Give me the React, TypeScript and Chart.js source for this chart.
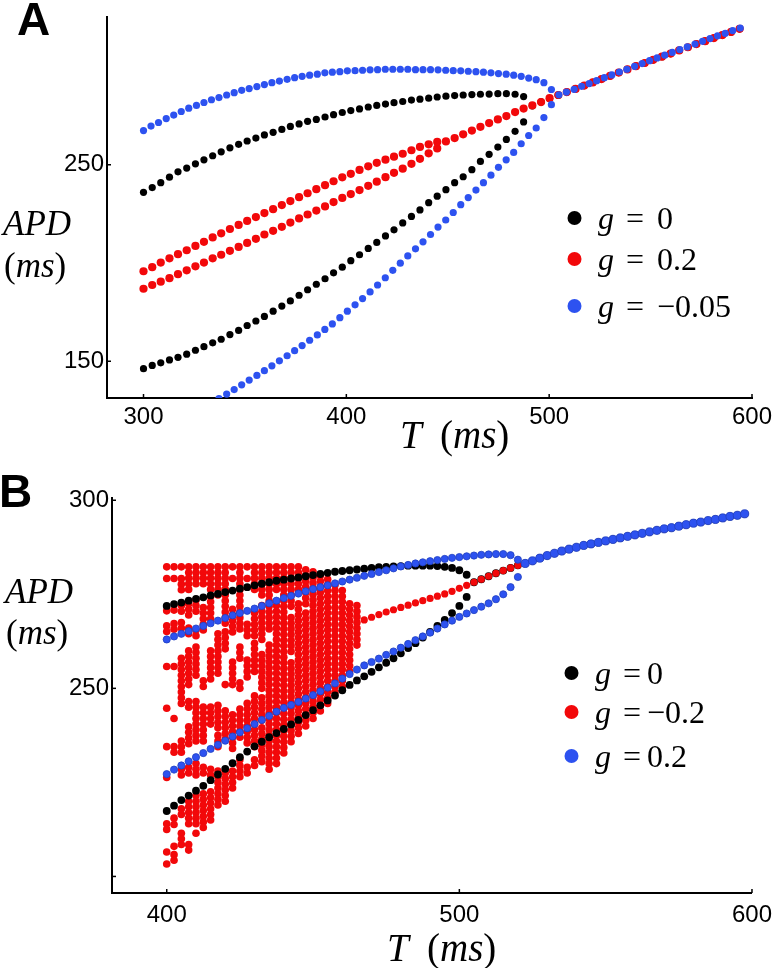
import React, { useEffect, useRef } from 'react';
import { Chart, registerables } from 'chart.js';

Chart.register(...registerables);

// ---------------- Panel A data ----------------
const A_X_TICKS = [300, 400, 500, 600];
const A_Y_TICKS = [150, 250];

// T grid (ms) of the g = 0 and g = 0.2 runs
const A_T_BR = [
  300.0, 304.3, 308.5, 312.8, 317.0, 321.3, 325.6, 329.8, 334.1, 338.3,
  342.6, 346.9, 351.1, 355.4, 359.6, 363.9, 368.2, 372.4, 376.7, 380.9,
  385.2, 389.5, 393.7, 398.0, 402.2, 406.5, 410.8, 415.0, 419.3, 423.5,
  427.8, 432.1, 436.3, 440.6, 444.8, 449.1, 453.4, 457.6, 461.9, 466.1,
  470.4, 474.7, 478.9, 483.2, 487.4, 491.7, 496.0, 500.2, 504.5, 508.7,
  513.0, 517.3, 521.5, 525.8, 530.0, 534.3, 538.6, 542.8, 547.1, 551.3,
  555.6, 559.9, 564.1, 568.4, 572.6, 576.9, 581.2, 585.4, 589.7, 593.9,
];
// T grid (ms) of the g = -0.05 run
const A_T_BLUE = [
  300.0, 303.7, 307.4, 311.2, 314.9, 318.6, 322.3, 326.1, 329.8, 333.5,
  337.2, 341.0, 344.7, 348.4, 352.1, 355.9, 359.6, 363.3, 367.0, 370.8,
  374.5, 378.2, 381.9, 385.7, 389.4, 393.1, 396.8, 400.5, 404.3, 408.0,
  411.7, 415.4, 419.2, 422.9, 426.6, 430.3, 434.1, 437.8, 441.5, 445.2,
  449.0, 452.7, 456.4, 460.1, 463.9, 467.6, 471.3, 475.0, 478.8, 482.5,
  486.2, 489.9, 493.6, 497.4, 501.1, 504.8, 508.5, 512.3, 516.0, 519.7,
  523.4, 527.2, 530.9, 534.6, 538.3, 542.1, 545.8, 549.5, 553.2, 557.0,
  560.7, 564.4, 568.1, 571.9, 575.6, 579.3, 583.0, 586.8, 590.5, 594.2,
];

// g = 0 (black)
const A_BLACK_UPPER = [
  236.0, 238.4, 240.9, 243.7, 246.4, 248.3, 250.5, 252.5, 254.6, 256.6,
  258.6, 260.4, 262.1, 263.6, 265.2, 266.5, 268.0, 269.5, 270.8, 272.1,
  273.1, 274.3, 275.5, 276.6, 277.6, 278.4, 279.4, 280.2, 280.9, 281.6,
  282.2, 282.9, 283.4, 283.9, 284.5, 284.9, 285.2, 285.5, 285.7, 285.9,
  286.0, 286.2, 286.2, 285.9, 284.7,
];
const A_BLACK_LOWER = [
  146.2, 147.9, 149.2, 150.7, 152.0, 153.6, 155.6, 157.4, 159.4, 161.2,
  163.6, 165.7, 168.2, 170.5, 172.8, 175.5, 178.1, 180.7, 183.6, 186.4,
  189.2, 192.0, 195.0, 197.9, 201.2, 204.2, 207.4, 210.5, 213.8, 216.9,
  220.4, 223.7, 227.0, 230.7, 234.0, 237.3, 240.9, 243.9, 247.5, 251.7,
  255.3, 259.0, 262.9, 267.0, 271.8,
];
const A_BLACK_SINGLE = [
  280.0, 282.0, 283.7, 285.4, 287.0, 288.6, 290.3, 291.9, 293.6, 295.2,
  296.9, 298.5, 300.2, 301.8, 303.4, 305.0, 306.6, 308.2, 309.8, 311.4,
  312.9, 314.5, 316.0, 317.6, 319.2,
];

// g = 0.2 (red)
const A_RED_UPPER = [
  195.8, 197.9, 200.2, 202.4, 204.5, 206.5, 208.7, 210.8, 213.0, 215.1,
  217.3, 219.4, 221.4, 223.4, 225.4, 227.4, 229.5, 231.5, 233.5, 235.5,
  237.6, 239.6, 241.6, 243.6, 245.4, 247.4, 249.2, 251.0, 252.6, 254.1,
  255.6, 257.4, 259.1, 260.4, 261.6,
];
const A_RED_LOWER = [
  186.9, 188.8, 190.5, 192.3, 194.3, 196.3, 198.3, 200.2, 202.4, 204.2,
  206.2, 208.2, 210.2, 212.3, 214.5, 216.4, 218.4, 220.6, 222.7, 224.7,
  226.7, 228.8, 231.0, 233.1, 235.1, 237.1, 239.3, 241.4, 243.7, 245.9,
  248.0, 250.5, 253.0, 255.8, 258.3,
];
const A_RED_SINGLE = [
  261.9, 263.6, 265.5, 267.4, 269.3, 271.2, 273.1, 274.8, 276.8, 278.6,
  280.2, 281.9, 283.9, 285.5, 287.0, 288.6, 290.3, 291.9, 293.6, 295.2,
  296.9, 298.5, 300.2, 301.8, 303.4, 305.0, 306.6, 308.2, 309.8, 311.4,
  312.9, 314.5, 316.0, 317.6, 319.2,
];

// g = -0.05 (blue)
const A_BLUE_UPPER = [
  267.4, 269.7, 271.5, 273.5, 275.3, 277.1, 278.8, 280.2, 281.7, 283.1,
  284.2, 285.5, 286.7, 287.9, 288.8, 289.8, 290.8, 291.8, 292.6, 293.5,
  294.3, 295.0, 295.6, 296.1, 296.8, 297.1, 297.4, 297.8, 297.9, 298.1,
  298.3, 298.4, 298.6, 298.6, 298.6, 298.6, 298.4, 298.4, 298.4, 298.3,
  298.1, 297.9, 297.8, 297.6, 297.4, 297.1, 296.8, 296.4, 296.1, 295.6,
  295.0, 294.1, 293.3, 291.8, 288.3,
];
const A_BLUE_LOWER: (number | null)[] = [
  null, null, null, null, null, null, null, null, null, null,
  131.0, 133.3, 135.6, 138.0, 140.4, 142.8, 145.2, 147.7, 150.2, 152.8,
  155.4, 158.0, 160.7, 163.4, 166.2, 169.0, 172.2, 175.5, 178.7, 181.9,
  185.3, 188.8, 192.5, 196.3, 199.9, 203.6, 207.2, 210.8, 214.5, 218.3,
  221.9, 225.7, 229.7, 233.3, 237.1, 240.9, 244.7, 248.7, 252.5, 256.3,
  260.7, 264.9, 268.7, 274.0, 280.6,
];
const A_BLUE_SINGLE = [
  285.6, 287.0, 288.4, 289.9, 291.3, 292.8, 294.3, 295.7, 297.2, 298.6,
  300.1, 301.5, 303.0, 304.4, 305.8, 307.2, 308.6, 310.0, 311.4, 312.8,
  314.2, 315.6, 316.9, 318.3, 319.6,
];

// ---------------- Panel B data ----------------
const B_X_TICKS = [400, 500, 600];
const B_Y_TICKS = [200, 250, 300];
const B_Y_LABELLED = [250, 300];

const B_T = [
  400, 402.5, 405, 407.5, 410, 412.5, 415, 417.5, 420, 422.5,
  425, 427.5, 430, 432.5, 435, 437.5, 440, 442.5, 445, 447.5,
  450, 452.5, 455, 457.5, 460, 462.5, 465, 467.5, 470, 472.5,
  475, 477.5, 480, 482.5, 485, 487.5, 490, 492.5, 495, 497.5,
  500, 502.5, 505, 507.5, 510, 512.5, 515, 517.5, 520, 522.5,
  525, 527.5, 530, 532.5, 535, 537.5, 540, 542.5, 545, 547.5,
  550, 552.5, 555, 557.5, 560, 562.5, 565, 567.5, 570, 572.5,
  575, 577.5, 580, 582.5, 585, 587.5, 590, 592.5, 595, 597.5,
];

// shared single (period-1) branch above T = 520
const B_COMMON = [
  283.2, 283.9, 284.6, 285.3, 285.9, 286.5, 287.0, 287.5, 288.0, 288.4,
  288.8, 289.2, 289.6, 290.0, 290.4, 290.8, 291.2, 291.6, 292.0, 292.4,
  292.7, 293.1, 293.5, 293.9, 294.2, 294.6, 294.9, 295.3, 295.7, 296.0,
  296.4,
];

// g = 0 (black)
const B_BLACK_UPPER = [
  271.9, 272.4, 272.8, 273.3, 273.8, 274.2, 274.7, 275.1, 275.6, 276.0,
  276.5, 276.9, 277.4, 277.8, 278.2, 278.6, 278.9, 279.2, 279.5, 279.8,
  280.1, 280.4, 280.7, 281.0, 281.2, 281.4, 281.6, 281.8, 282.0, 282.2,
  282.3, 282.4, 282.5, 282.6, 282.6, 282.6, 282.6, 282.5, 282.3, 282.0,
  281.4, 280.2,
];
const B_BLACK_LOWER = [
  217.4, 218.8, 220.3, 221.5, 222.8, 224.1, 225.6, 227.1, 228.6, 230.1,
  231.7, 233.2, 234.6, 235.8, 237.0, 238.1, 239.2, 240.4, 241.6, 242.9,
  244.2, 245.5, 246.8, 248.1, 249.5, 250.9, 252.1, 253.2, 254.4, 255.6,
  256.8, 258.0, 259.3, 260.7, 262.0, 263.5, 265.0, 266.6, 268.2, 270.0,
  271.9, 274.3,
];
const B_BLACK_SINGLE = [278.2, 279.0, 279.8, 280.6, 281.3, 282.0, 282.7];

// g = 0.2 (blue)
const B_BLUE_UPPER = [
  263.0, 263.8, 264.5, 265.2, 265.9, 266.6, 267.3, 268.0, 268.7, 269.4,
  270.0, 270.6, 271.2, 271.9, 272.6, 273.3, 274.0, 274.6, 275.2, 275.8,
  276.4, 276.9, 277.4, 277.9, 278.4, 278.9, 279.4, 279.9, 280.4, 280.9,
  281.4, 281.9, 282.4, 282.8, 283.2, 283.5, 283.8, 284.1, 284.4, 284.7,
  284.9, 285.1, 285.3, 285.5, 285.6, 285.7, 285.7, 285.4, 284.2,
];
const B_BLUE_LOWER = [
  227.2, 228.4, 229.5, 230.6, 231.7, 232.8, 233.9, 235.0, 236.1, 237.2,
  238.3, 239.4, 240.5, 241.6, 242.7, 243.8, 244.8, 245.6, 246.4, 247.3,
  248.2, 249.2, 250.2, 251.3, 252.6, 253.8, 255.0, 256.1, 257.0, 257.9,
  258.9, 259.8, 260.8, 261.8, 262.8, 263.8, 264.8, 265.9, 267.0, 268.0,
  269.0, 269.9, 270.8, 271.7, 272.6, 273.7, 275.0, 276.9, 279.6,
];

// g = -0.2 (red): irregular columns for T = 400 ... 465, then a single branch
const B_RED_CHAOS: number[][] = [
  [282.3, 279.2, 270.6, 266.6, 265.1, 255.8, 244.7, 234.5, 226.3, 214.0, 212.5, 206.5, 203.3],
  [282.3, 279.2, 270.8, 267.2, 265.7, 255.8, 242.0, 234.5, 233.0, 215.5, 213.8, 208.0, 205.8, 204.3],
  [282.3, 279.2, 277.7, 276.2, 272.0, 270.5, 267.5, 266.0, 258.0, 256.5, 255.0, 253.5, 252.0, 250.5, 249.0, 247.5, 246.0, 236.0, 234.5, 233.0, 228.5, 227.0, 218.0, 216.5, 211.5, 210.0, 208.5],
  [282.3, 280.8, 279.3, 277.8, 276.3, 272.5, 271.0, 269.5, 266.0, 264.5, 260.0, 258.5, 257.0, 255.5, 254.0, 252.5, 251.0, 246.5, 245.0, 239.8, 238.3, 236.8, 235.3, 229.0, 227.5, 220.0, 218.5, 217.0, 215.5, 214.0, 208.5, 207.0],
  [282.3, 280.8, 279.3, 277.8, 273.5, 272.0, 270.5, 265.5, 264.0, 261.0, 259.5, 258.0, 256.5, 255.0, 253.5, 246.5, 245.0, 243.5, 242.0, 240.5, 239.0, 237.5, 236.0, 230.0, 228.5, 227.0, 221.5, 220.0, 218.5, 217.0, 215.5, 214.0, 211.5],
  [282.3, 280.8, 279.3, 277.8, 271.5, 270.0, 268.5, 267.0, 265.5, 252.0, 250.5, 245.0, 243.5, 242.0, 240.5, 239.0, 237.5, 236.0, 229.0, 227.5, 222.0, 220.5, 219.0, 217.5, 216.0, 214.5, 213.0],
  [282.3, 280.8, 279.3, 277.8, 276.3, 274.5, 273.0, 271.5, 270.0, 268.5, 260.0, 258.5, 257.0, 255.5, 254.0, 252.5, 245.0, 243.5, 242.0, 240.5, 228.5, 227.0, 222.5, 221.0, 219.5, 218.0, 216.5, 215.0],
  [282.3, 280.8, 279.3, 277.8, 276.3, 274.8, 264.5, 263.0, 261.5, 260.0, 258.5, 257.0, 255.5, 254.0, 245.5, 244.0, 242.5, 241.0, 239.5, 237.5, 236.0, 234.5, 228.0, 226.5, 225.0, 223.5, 222.0, 220.5, 219.0],
  [282.3, 280.8, 279.3, 277.8, 276.3, 274.8, 273.3, 271.8, 270.3, 268.8, 267.3, 265.0, 263.5, 262.0, 260.5, 251.0, 244.0, 242.5, 241.0, 239.5, 238.0, 236.5, 227.5, 226.0, 224.5, 223.0, 221.5, 220.0],
  [282.3, 279.2, 271.0, 269.5, 268.0, 266.5, 265.0, 257.0, 255.5, 254.0, 252.5, 251.0, 243.0, 241.5, 240.0, 238.5, 237.0, 235.5, 234.0, 228.0, 226.5, 225.0, 223.5],
  [282.3, 280.8, 279.3, 277.8, 276.3, 274.8, 273.3, 271.8, 270.3, 268.8, 267.3, 265.8, 261.0, 259.5, 258.0, 251.5, 250.0, 244.5, 243.0, 241.5, 240.0, 238.5, 237.0, 231.0, 229.5, 228.0, 226.5],
  [282.3, 279.2, 267.0, 265.5, 264.0, 257.5, 256.0, 254.5, 253.0, 246.0, 244.5, 243.0, 241.5, 240.0, 238.5, 237.0, 235.5, 229.0, 227.5],
  [282.3, 280.8, 279.3, 277.8, 276.3, 270.0, 268.5, 267.0, 265.5, 264.0, 262.0, 260.5, 259.0, 257.5, 256.0, 254.5, 248.0, 246.5, 245.0, 243.5, 242.0, 240.5, 239.0, 237.5, 236.0, 234.5, 231.0, 229.5],
  [282.3, 280.8, 279.3, 277.8, 276.3, 274.8, 272.0, 270.5, 269.0, 267.5, 266.0, 264.5, 263.0, 259.0, 257.5, 256.0, 254.5, 253.0, 251.5, 250.0, 247.5, 246.0, 244.5, 243.0, 241.5, 239.5, 238.0, 236.5, 235.0, 233.5, 232.0, 230.5],
  [282.3, 280.8, 279.3, 277.8, 276.3, 274.8, 273.3, 271.8, 270.3, 268.8, 267.3, 265.8, 261.5, 260.0, 258.5, 257.0, 255.5, 254.0, 252.5, 251.0, 249.5, 248.0, 246.5, 245.0, 243.5, 242.0, 240.5, 239.0, 237.5, 236.0, 234.5, 233.0, 231.5, 230.0, 228.5],
  [282.3, 280.8, 279.3, 277.8, 276.3, 272.0, 270.5, 269.0, 267.5, 266.0, 264.5, 263.0, 261.5, 260.0, 258.5, 257.0, 255.5, 254.0, 252.5, 251.0, 249.5, 248.0, 246.5, 245.0, 243.5, 242.0, 240.5, 239.0, 237.5, 236.0, 234.5, 233.0, 231.5, 230.0],
  [282.3, 280.8, 279.3, 277.8, 276.3, 274.8, 273.3, 271.8, 270.3, 268.8, 267.3, 265.8, 264.3, 262.8, 261.3, 259.8, 258.3, 256.8, 255.3, 253.8, 252.3, 250.8, 249.3, 247.8, 246.3, 244.8, 243.3, 241.8, 240.3, 238.8, 237.3, 235.8, 234.3, 232.8],
  [282.3, 280.8, 279.3, 277.8, 276.3, 274.8, 273.3, 271.8, 268.8, 267.3, 265.8, 264.3, 262.8, 261.3, 259.8, 256.8, 255.3, 253.8, 252.3, 250.8, 249.3, 247.8, 246.3, 244.8, 243.3, 241.8, 240.3, 238.8, 237.3, 235.8],
  [282.3, 280.8, 279.3, 277.8, 276.3, 272.5, 271.0, 269.5, 268.0, 266.5, 265.0, 263.5, 262.0, 260.5, 259.0, 257.5, 256.0, 254.5, 253.0, 251.5, 250.0, 248.5, 247.0, 245.5, 244.0, 242.5, 241.0, 239.5, 238.0],
  [281.5, 280.0, 278.5, 277.0, 275.5, 274.0, 272.5, 270.0, 268.5, 267.0, 265.5, 264.0, 262.5, 261.0, 259.5, 258.0, 256.5, 255.0, 253.5, 252.0, 250.5, 249.0, 247.5, 246.0, 244.5, 243.0, 241.5, 240.0],
  [281.0, 279.5, 278.0, 276.5, 275.0, 273.5, 272.0, 270.5, 269.0, 267.5, 266.0, 264.5, 263.0, 261.5, 260.0, 258.5, 257.0, 255.5, 254.0, 252.5, 251.0, 249.5, 248.0, 246.5, 245.0, 243.5, 242.0],
  [280.0, 278.5, 277.0, 275.5, 274.0, 272.5, 271.0, 269.5, 268.0, 266.5, 265.0, 263.5, 262.0, 260.5, 259.0, 257.5, 256.0, 254.5, 253.0, 251.5, 250.0, 248.5, 247.0, 245.5, 244.0],
  [279.0, 277.5, 276.0, 274.5, 273.0, 271.5, 270.0, 268.5, 267.0, 265.5, 264.0, 262.5, 261.0, 259.5, 258.0, 256.5, 255.0, 253.5, 252.0, 250.5, 249.0, 247.5, 246.0],
  [277.5, 276.0, 274.5, 273.0, 271.5, 270.0, 268.5, 267.0, 265.5, 264.0, 262.5, 261.0, 259.5, 258.0, 256.5, 255.0, 253.5, 252.0, 250.5, 249.0],
  [276.0, 274.5, 273.0, 271.5, 270.0, 268.5, 267.0, 265.5, 264.0, 262.5, 261.0, 259.5, 258.0, 256.5, 255.0, 253.5, 252.0, 250.5],
  [272.5, 271.0, 269.5, 268.0, 266.5, 265.0, 263.5, 262.0, 260.5, 259.0, 257.5, 256.0, 254.5],
  [272.0, 270.5, 269.0, 267.5, 266.0, 264.5, 263.0, 261.5],
];
const B_RED_LINE = [
  268.2, 268.9, 269.6, 270.3, 270.9, 271.5, 272.1, 272.7, 273.3, 273.9,
  274.5, 275.1, 275.8, 276.6, 277.4, 278.2, 279.0, 279.8, 280.6, 281.3,
  282.0, 282.7,
];

// ---------------- styling ----------------
const BLACK = '#000000';
const RED = '#f2080a';
const BLUE = '#2d52f0';
const BLUE_EDGE = '#2140c0';
const SANS = "'Liberation Sans', Arial, sans-serif";
const SERIF = "'Liberation Serif', 'DejaVu Serif', serif";

type P = { x: number; y: number };
function pts(ts: number[], ys: (number | null)[], offset = 0): P[] {
  const out: P[] = [];
  ys.forEach((y, i) => {
    if (y !== null && y !== undefined) out.push({ x: ts[offset + i], y });
  });
  return out;
}

function ds(data: P[], color: string, r: number, order: number, edge?: string) {
  return {
    data,
    order,
    pointRadius: r,
    pointHoverRadius: r,
    pointBackgroundColor: color,
    pointBorderColor: edge || color,
    pointBorderWidth: edge ? 0.8 : 0,
    showLine: false,
  };
}

function drawSegments(ctx: CanvasRenderingContext2D, x: number, y: number, size: number,
  parts: { t: string; it: boolean }[]) {
  let cx = x;
  for (const p of parts) {
    ctx.font = `${p.it ? 'italic ' : ''}${size}px ${SERIF}`;
    ctx.fillText(p.t, cx, y);
    cx += ctx.measureText(p.t).width;
  }
}

const MS = [{ t: '(', it: false }, { t: 'ms', it: true }, { t: ')', it: false }];

function drawLegend(ctx: CanvasRenderingContext2D, xDot: number, xG: number, xEq: number, xVal: number,
  rows: { y: number; color: string; label: string }[], size: number) {
  for (const r of rows) {
    ctx.beginPath();
    ctx.fillStyle = r.color;
    ctx.arc(xDot, r.y, 7, 0, Math.PI * 2);
    ctx.fill();
    ctx.fillStyle = '#000';
    ctx.font = `italic ${size}px ${SERIF}`;
    ctx.fillText('g', xG, r.y + 11);
    ctx.font = `${size}px ${SERIF}`;
    ctx.fillText('=', xEq, r.y + 11);
    ctx.fillText(r.label, xVal, r.y + 11);
  }
}

const innerTicks = {
  id: 'innerTicks',
  afterDraw(chart: any) {
    const ctx = chart.ctx;
    const { x, y } = chart.scales;
    const area = chart.chartArea;
    ctx.save();
    ctx.strokeStyle = '#000';
    ctx.lineWidth = 1.5;
    for (const t of x.ticks) {
      const px = x.getPixelForValue(t.value);
      ctx.beginPath();
      ctx.moveTo(px, area.bottom);
      ctx.lineTo(px, area.bottom - 4);
      ctx.stroke();
    }
    for (const t of y.ticks) {
      const py = y.getPixelForValue(t.value);
      ctx.beginPath();
      ctx.moveTo(area.left, py);
      ctx.lineTo(area.left + 4, py);
      ctx.stroke();
    }
    ctx.restore();
  },
};

function scaleCfg(min: number, max: number, ticks: number[], size: number, fontSize: number,
  padding: number, isX: boolean, labelled?: number[]) {
  return {
    type: 'linear',
    min,
    max,
    afterBuildTicks: (s: any) => { s.ticks = ticks.map((v) => ({ value: v })); },
    afterFit: (s: any) => { if (isX) s.height = size; else s.width = size; },
    grid: { display: false, drawTicks: false },
    border: { display: true, color: '#000', width: 2 },
    ticks: {
      color: '#000',
      font: { family: SANS, size: fontSize },
      padding,
      maxRotation: 0,
      autoSkip: false,
      callback: (v: any) => (labelled && !labelled.includes(v) ? '' : String(v)),
    },
  };
}

export default function App() {
  const refA = useRef<HTMLCanvasElement>(null);
  const refB = useRef<HTMLCanvasElement>(null);

  useEffect(() => {
    const textA = {
      id: 'textA',
      afterDraw(chart: any) {
        const ctx = chart.ctx;
        ctx.save();
        ctx.fillStyle = '#000';
        ctx.textAlign = 'left';
        ctx.textBaseline = 'alphabetic';
        ctx.font = `bold 46px ${SANS}`;
        ctx.fillText('A', 17, 35);
        ctx.font = `italic 35px ${SERIF}`;
        ctx.fillText('APD', 3, 235);
        drawSegments(ctx, 4, 277, 35, MS);
        ctx.font = `italic 39px ${SERIF}`;
        ctx.fillText('T', 400, 448);
        drawSegments(ctx, 440, 448, 39, MS);
        drawLegend(ctx, 574.5, 598, 626, 657, [
          { y: 218, color: BLACK, label: '0' },
          { y: 259, color: RED, label: '0.2' },
          { y: 306, color: BLUE, label: '\u22120.05' },
        ], 32);
        ctx.restore();
      },
    };
    const textB = {
      id: 'textB',
      afterDraw(chart: any) {
        const ctx = chart.ctx;
        ctx.save();
        ctx.fillStyle = '#000';
        ctx.textAlign = 'left';
        ctx.textBaseline = 'alphabetic';
        ctx.font = `bold 46px ${SANS}`;
        ctx.fillText('B', -1, 37);
        ctx.font = `italic 35px ${SERIF}`;
        ctx.fillText('APD', 5, 133);
        drawSegments(ctx, 6, 174, 35, MS);
        ctx.font = `italic 39px ${SERIF}`;
        ctx.fillText('T', 387, 491);
        drawSegments(ctx, 427, 491, 39, MS);
        drawLegend(ctx, 571.5, 595, 623, 647, [
          { y: 203, color: BLACK, label: '0' },
          { y: 242, color: RED, label: '\u22120.2' },
          { y: 286, color: BLUE, label: '0.2' },
        ], 32);
        ctx.restore();
      },
    };

    const nB = A_BLACK_UPPER.length;
    const nR = A_RED_UPPER.length;
    const nU = A_BLUE_UPPER.length;
    const chartA = new Chart(refA.current as HTMLCanvasElement, {
      type: 'scatter',
      data: {
        datasets: [
          ds(pts(A_T_BLUE, A_BLUE_UPPER), BLUE, 3.6, 1),
          ds(pts(A_T_BLUE, A_BLUE_LOWER), BLUE, 3.6, 1),
          ds(pts(A_T_BLUE, A_BLUE_SINGLE, nU), BLUE, 3.6, 1),
          ds(pts(A_T_BR, A_RED_UPPER), RED, 4.1, 2),
          ds(pts(A_T_BR, A_RED_LOWER), RED, 4.1, 2),
          ds(pts(A_T_BR, A_RED_SINGLE, nR), RED, 4.1, 2),
          ds(pts(A_T_BR, A_BLACK_UPPER), BLACK, 3.6, 3),
          ds(pts(A_T_BR, A_BLACK_LOWER), BLACK, 3.6, 3),
          ds(pts(A_T_BR, A_BLACK_SINGLE, nB), BLACK, 3.6, 3),
        ] as any,
      },
      options: {
        animation: false,
        responsive: false,
        devicePixelRatio: 1,
        events: [],
        layout: { padding: { top: 7, right: 28, left: 0, bottom: 0 } },
        plugins: { legend: { display: false }, tooltip: { enabled: false } },
        scales: {
          x: scaleCfg(282, 600, A_X_TICKS, 72, 24, 5, true) as any,
          y: scaleCfg(131.3, 325, A_Y_TICKS, 107, 24, 3, false) as any,
        },
      },
      plugins: [innerTicks, textA],
    });

    const nChaos = B_RED_CHAOS.length;
    const nBU = B_BLUE_UPPER.length;
    const nBB = B_BLACK_UPPER.length;
    const chaos: P[] = [];
    B_RED_CHAOS.forEach((col, i) => col.forEach((v) => chaos.push({ x: B_T[i], y: v })));

    const chartB = new Chart(refB.current as HTMLCanvasElement, {
      type: 'scatter',
      data: {
        datasets: [
          ds(pts(B_T, B_BLUE_UPPER), BLUE, 3.6, 1, BLUE_EDGE),
          ds(pts(B_T, B_BLUE_LOWER), BLUE, 3.6, 1, BLUE_EDGE),
          ds(pts(B_T, B_COMMON, nBU), BLUE, 4.1, 1, BLUE_EDGE),
          ds(pts(B_T, B_RED_LINE, nChaos), RED, 3.6, 2),
          ds(pts(B_T, B_COMMON, nChaos + B_RED_LINE.length), RED, 3.6, 2),
          ds(pts(B_T, B_BLACK_UPPER), BLACK, 3.9, 3),
          ds(pts(B_T, B_BLACK_LOWER), BLACK, 3.9, 3),
          ds(pts(B_T, B_BLACK_SINGLE, nBB), BLACK, 3.9, 3),
          ds(pts(B_T, B_COMMON, nBB + B_BLACK_SINGLE.length), BLACK, 3.9, 3),
          ds(chaos, RED, 3.8, 4),
        ] as any,
      },
      options: {
        animation: false,
        responsive: false,
        devicePixelRatio: 1,
        events: [],
        layout: { padding: { top: 28, right: 18, left: 0, bottom: 0 } },
        plugins: { legend: { display: false }, tooltip: { enabled: false } },
        scales: {
          x: scaleCfg(381.3, 600, B_X_TICKS, 75, 24, 8, true) as any,
          y: scaleCfg(195.6, 300.6, B_Y_TICKS, 112, 24, 3, false, B_Y_LABELLED) as any,
        },
      },
      plugins: [innerTicks, textB],
    });

    return () => {
      chartA.destroy();
      chartB.destroy();
    };
  }, []);

  return (
    <div style={{ position: 'absolute', left: 0, top: 0, width: 780, height: 968, background: '#fff' }}>
      <canvas ref={refA} width={780} height={470} style={{ display: 'block', width: 780, height: 470 }} />
      <canvas ref={refB} width={780} height={498} style={{ display: 'block', width: 780, height: 498 }} />
    </div>
  );
}
